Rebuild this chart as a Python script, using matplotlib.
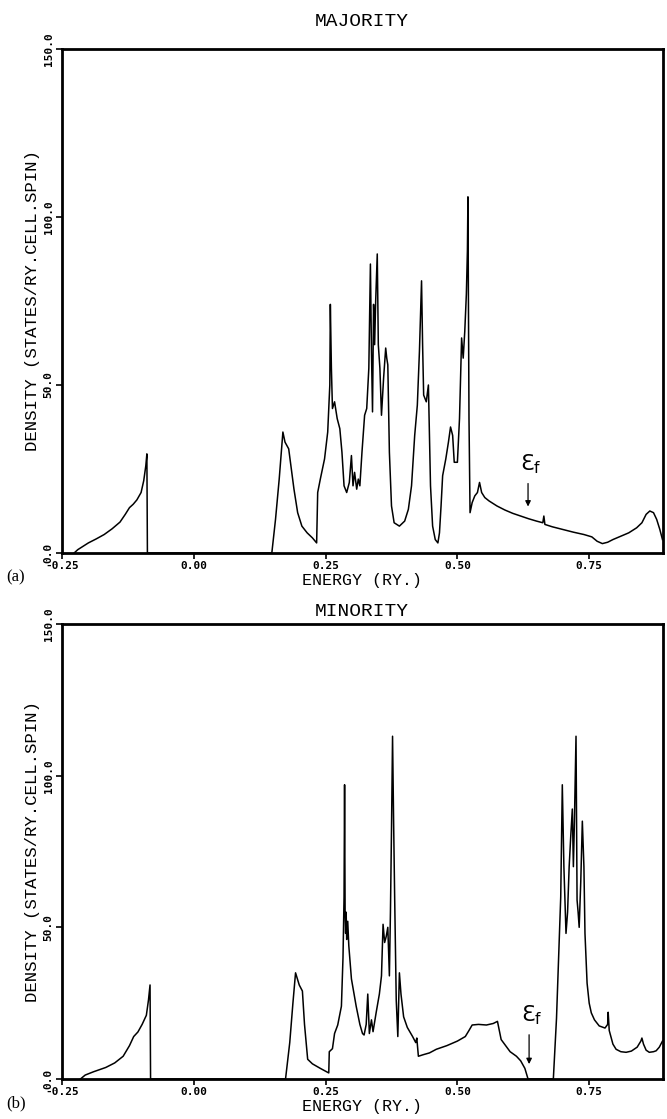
import matplotlib
matplotlib.use("Agg")
import matplotlib.pyplot as plt

# majority spin DOS (energy in Ry, states/Ry.cell.spin)
maj_energy = [
    -0.227, -0.22, -0.21, -0.20, -0.185, -0.17, -0.155, -0.14, -0.13, -0.122,
    -0.115, -0.108, -0.10, -0.095, -0.091, -0.089, -0.088, 0.148, 0.155, 0.162,
    0.169, 0.173, 0.18, 0.185, 0.19, 0.197, 0.205, 0.215, 0.225, 0.233,
    0.235, 0.24, 0.248, 0.254, 0.258, 0.259, 0.261, 0.263, 0.267, 0.272,
    0.277, 0.281, 0.285, 0.29, 0.295, 0.299, 0.302, 0.305, 0.309, 0.312,
    0.315, 0.319, 0.324, 0.328, 0.332, 0.335, 0.337, 0.339, 0.341, 0.343,
    0.345, 0.348, 0.350, 0.353, 0.356, 0.36, 0.364, 0.366, 0.368, 0.371,
    0.375, 0.38, 0.39, 0.40, 0.407, 0.413, 0.419, 0.424, 0.428, 0.432,
    0.434, 0.436, 0.441, 0.445, 0.447, 0.449, 0.453, 0.458, 0.463, 0.466,
    0.469, 0.472, 0.478, 0.483, 0.487, 0.491, 0.494, 0.50, 0.504, 0.508,
    0.511, 0.514, 0.517, 0.519, 0.52, 0.522, 0.524, 0.528, 0.533, 0.538,
    0.542, 0.546, 0.552, 0.56, 0.575, 0.59, 0.605, 0.62, 0.635, 0.65,
    0.662, 0.664, 0.666, 0.68, 0.70, 0.72, 0.74, 0.755, 0.765, 0.775,
    0.785, 0.795, 0.81, 0.825, 0.84, 0.85, 0.858, 0.865, 0.872, 0.878,
    0.884, 0.889,
]
maj_dos = [
    0, 1.0, 2.0, 3.0, 4.2, 5.5, 7.2, 9.2, 11.5, 13.5,
    14.5, 15.8, 18.0, 21.5, 26.0, 29.5, 0, 0, 10, 22,
    36, 33, 31, 25, 19, 12, 8, 6, 4.5, 3,
    18, 22, 28, 36, 50, 74, 55, 43, 45, 40,
    37, 30, 20, 18, 21, 29, 20, 24, 19, 22,
    20, 30, 41, 43, 55, 86, 60, 42, 74, 62,
    75, 89, 62, 55, 41, 52, 61, 58, 56, 30,
    14, 9, 8, 9.5, 13, 20, 35, 44, 60, 81,
    62, 47, 45, 50, 35, 20, 8, 4, 3, 6,
    14, 23, 28, 33, 37.5, 35, 27, 27, 40, 64,
    58, 66, 77, 90, 106, 40, 12, 15, 17, 18,
    21, 18, 16.5, 15.5, 14, 12.8, 11.8, 11, 10.2, 9.5,
    9, 11, 8.5, 7.8, 7, 6.2, 5.5, 4.8, 3.5, 2.8,
    3.2, 4, 5, 6, 7.5, 9, 11.5, 12.5, 12, 10,
    7, 4,
]

# minority spin DOS
min_energy = [
    -0.215, -0.206, -0.19, -0.167, -0.15, -0.134, -0.122, -0.114, -0.106, -0.098,
    -0.09, -0.086, -0.083, -0.082, 0.174, 0.182, 0.188, 0.193, 0.20, 0.206,
    0.21, 0.216, 0.225, 0.24, 0.256, 0.257, 0.263, 0.267, 0.273, 0.28,
    0.283, 0.285, 0.286, 0.287, 0.288, 0.289, 0.290, 0.292, 0.294, 0.299,
    0.308, 0.315, 0.32, 0.323, 0.327, 0.33, 0.333, 0.337, 0.34, 0.346,
    0.352, 0.356, 0.359, 0.362, 0.365, 0.368, 0.371, 0.373, 0.375, 0.377,
    0.379, 0.381, 0.384, 0.387, 0.39, 0.393, 0.398, 0.405, 0.415, 0.421,
    0.423, 0.426, 0.435, 0.447, 0.46, 0.48, 0.50, 0.515, 0.522, 0.528,
    0.54, 0.555, 0.568, 0.576, 0.583, 0.60, 0.612, 0.62, 0.628, 0.634,
    0.682, 0.688, 0.693, 0.696, 0.699, 0.702, 0.706, 0.709, 0.712, 0.715,
    0.718, 0.72, 0.722, 0.725, 0.727, 0.729, 0.731, 0.734, 0.737, 0.74,
    0.742, 0.746, 0.75, 0.754, 0.76, 0.769, 0.78, 0.785, 0.786, 0.788,
    0.795, 0.801, 0.81, 0.82, 0.83, 0.841, 0.848, 0.85, 0.853, 0.858,
    0.864, 0.872, 0.877, 0.883, 0.889,
]
min_dos = [
    0, 1.3, 2.4, 3.8, 5.3, 7.5, 11, 14, 15.5, 18,
    21, 26, 31, 0, 0, 12, 25, 35, 31, 29,
    18, 6.5, 5, 3.5, 2, 9, 10, 15, 17.8, 24,
    40, 60, 97, 55, 48, 55, 46, 52, 44, 33,
    24, 18, 15, 14.5, 18, 28, 15, 19.5, 15.6, 22,
    28, 34, 51, 45, 47, 50, 34, 55, 82, 113,
    85, 60, 26, 14, 35, 28, 20.5, 17, 14, 12,
    13.5, 7.5, 8, 8.6, 9.8, 11, 12.5, 14, 16, 17.8,
    18, 17.8, 18.3, 19, 13, 9, 7.5, 6, 3.5, 0,
    0, 20, 45, 60, 97, 70, 48, 55, 70, 80,
    89, 70, 85, 113, 59, 55, 50, 65, 85, 70,
    48, 31.6, 25, 21.8, 19.5, 17.5, 16.8, 18, 22, 16,
    11.5, 9.8, 9, 8.8, 9.2, 10.5, 12.5, 13.5, 11.5, 9.5,
    8.8, 9, 9.3, 10.5, 12.5,
]

x_ticks = [-0.25, 0.0, 0.25, 0.50, 0.75]
x_labels = ["-0.25", "0.00", "0.25", "0.50", "0.75"]
y_ticks = [0, 50, 100, 150]
y_labels = ["0.0", "50.0", "100.0", "150.0"]

# (title, panel tag, energy, dos, fermi level, Ef label y, arrow tip y)
panels = [
    ("MAJORITY", "(a)", maj_energy, maj_dos, 0.634, 23, 13),
    ("MINORITY", "(b)", min_energy, min_dos, 0.636, 17, 4),
]

W, H = 667, 1119
fig = plt.figure(figsize=(W / 100, H / 100), dpi=100)
mono = "DejaVu Sans Mono"
thin = "Liberation Mono"

# pixel boxes of the two frames: (top, bottom), and title centre
boxes = [(49, 553), (624, 1079)]
title_y = [21, 611]
for (title, tag, e, d, ef, ef_y, tip_y), (top, bot), ty in zip(panels, boxes, title_y):
    ax = fig.add_axes([62 / W, 1 - bot / H, 601 / W, (bot - top) / H])
    ax.plot(e, d, color="black", lw=1.1)
    ax.set_xlim(-0.25, 0.89)
    ax.set_ylim(0, 150)
    ax.set_xticks(x_ticks)
    ax.set_xticklabels(x_labels, fontfamily=mono, fontweight="bold", fontsize=8)
    ax.set_yticks(y_ticks)
    ax.set_yticklabels(y_labels, fontfamily=mono, fontweight="bold", fontsize=8,
                       rotation=90, va="center")
    ax.tick_params(direction="out", length=4, width=1.2, pad=2)
    for s in ax.spines.values():
        s.set_linewidth(2)
    ax.set_xlabel("ENERGY (RY.)", fontfamily=thin, fontsize=12, labelpad=1)
    ax.set_ylabel("DENSITY (STATES/RY.CELL.SPIN)", fontfamily=thin, fontsize=12.5,
                  labelpad=3)
    fig.text(362 / W, 1 - ty / H, title, family=thin, fontsize=14,
             ha="center", va="center")
    # Fermi level marker
    ax.annotate("", xy=(ef, tip_y), xytext=(ef, ef_y - 1.5),
                arrowprops=dict(arrowstyle="-|>", color="black", lw=0.9,
                                mutation_scale=8))
    ax.text(ef + 0.006, ef_y, "Ɛ$_\\mathregular{f}$", fontsize=16, ha="center",
            va="bottom")
    fig.text(6 / W, 1 - (bot + 24) / H, tag, family="Liberation Serif",
             fontsize=12, va="center")

fig.savefig("out.png", dpi=100)
